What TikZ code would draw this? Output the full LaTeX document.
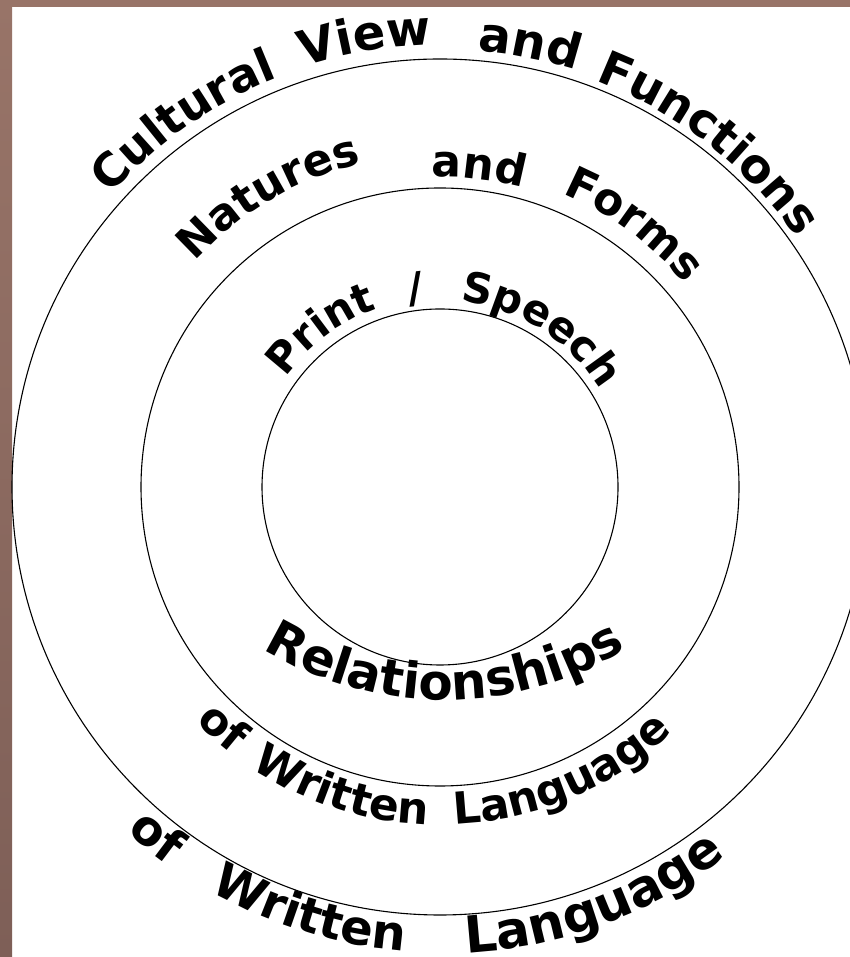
\documentclass[tikz,border=0pt]{standalone}
\usepackage{fontspec}
\newfontfamily\wf{DejaVu Sans}
\usetikzlibrary{decorations.text}
\definecolor{frameTop}{HTML}{987468}
\definecolor{frameBot}{HTML}{7E5F57}
\tikzset{
  ring/.style={draw=black, line width=1.1pt},
}
% #1 size, #2 centre angle, #3 baseline radius, #4 text  (letters outward, top)
\newcommand\wordtop[4]{%
  \path[shift={(440,470)}, decorate, decoration={text along path, text align=center,
    text={|\wf\bfseries\fontsize{#1}{#1}\selectfont|#4}}]
    (#2+70:#3) arc[start angle=#2+70, end angle=#2-70, radius=#3];}
% letters inward, bottom
\newcommand\wordbot[4]{%
  \path[shift={(440,470)}, decorate, decoration={text along path, text align=center,
    text={|\wf\bfseries\fontsize{#1}{#1}\selectfont|#4}}]
    (#2-70:#3) arc[start angle=#2-70, end angle=#2+70, radius=#3];}
\begin{document}
\begin{tikzpicture}[x=1pt,y=1pt]
\useasboundingbox (0,0) rectangle (850,957);
\fill[white] (0,0) rectangle (850,957);
\clip (0,0) rectangle (850,957);
% frame
\shade[top color=frameTop, bottom color=frameBot] (0,0) rectangle (12,957);
\fill[frameTop] (0,950) rectangle (850,957);
% rings
\coordinate (O) at (440,470);
\draw[ring] (O) circle[radius=428];
\draw[ring] (O) circle[radius=299];
\draw[ring] (O) circle[radius=178];
% outer top
\wordtop{46}{125}{440}{Cultural}
\wordtop{48}{99.5}{442}{View}
\wordtop{48}{78.5}{438}{and}
\wordtop{47}{52}{435}{Functions}
% middle top
\wordtop{44}{120.5}{333}{Natures}
\wordtop{44}{83}{310}{and}
\wordtop{44}{53.5}{318}{Forms}
% inner top
\wordtop{42}{127}{189}{Print}
\wordtop{42}{97}{186}{/}
\wordtop{42}{57.5}{187}{Speech}
% Relationships
\path[shift={(445,606)}, decorate, decoration={text along path, text align=center,
    text={|\wf\bfseries\fontsize{50}{50}\selectfont|Relationships}}]
    (220:349) arc[start angle=220, end angle=320, radius=349];
% middle bottom
\wordbot{44}{228}{338}{of}
\wordbot{44}{252}{338}{Written}
\wordbot{44}{293}{338}{Language}
% outer bottom
\wordbot{48}{231}{466}{of}
\wordbot{48}{253}{465}{Written}
\wordbot{51}{290.5}{467}{Language}
\end{tikzpicture}
\end{document}
